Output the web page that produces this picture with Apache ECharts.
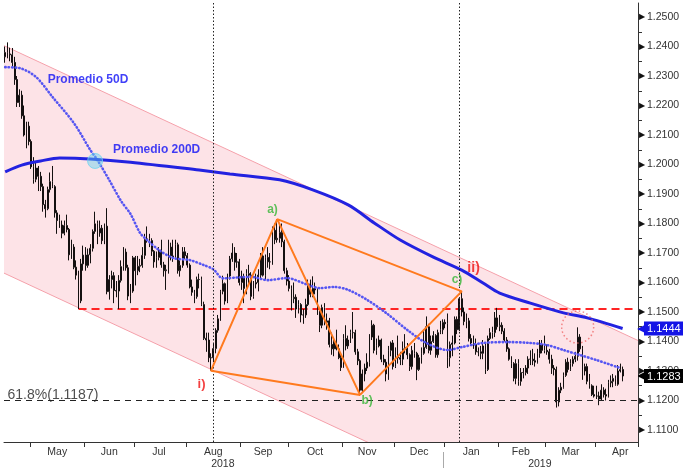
<!DOCTYPE html>
<html><head><meta charset="utf-8">
<script src="https://cdn.jsdelivr.net/npm/echarts@6/dist/echarts.min.js"></script>
<style>html,body{margin:0;padding:0;background:#fff}#c{width:683px;height:468px}</style>
</head><body><div id="c"></div><script>
// ---------- data ----------
const startDate = [2018, 3, 16];   // first trading day shown (UTC y, m-1, d)
const categoryCount = 268;          // weekdays on the axis (incl. a few empty ones at the right)
const monthNames = ['Jan','Feb','Mar','Apr','May','Jun','Jul','Aug','Sep','Oct','Nov','Dec'];

const opens = [
1.2365,1.2380,1.2375,1.2372,1.2346,1.2288,1.2210,1.2235,1.2165,1.2100,
1.2130,1.2078,1.1992,1.1950,1.1988,1.1960,1.1925,1.1864,1.1850,1.1915,
1.1942,1.1925,1.1836,1.1810,1.1795,1.1767,1.1793,1.1780,1.1694,1.1720,
1.1652,1.1625,1.1538,1.1663,1.1693,1.1658,1.1694,1.1716,1.1773,1.1799,
1.1768,1.1784,1.1742,1.1791,1.1569,1.1610,1.1623,1.1573,1.1571,1.1607,
1.1654,1.1703,1.1650,1.1554,1.1571,1.1684,1.1640,1.1655,1.1658,1.1692,
1.1745,1.1748,1.1742,1.1706,1.1670,1.1685,1.1710,1.1660,1.1640,1.1643,
1.1720,1.1690,1.1686,1.1728,1.1640,1.1658,1.1704,1.1691,1.1659,1.1585,
1.1567,1.1552,1.1610,1.1610,1.1525,1.1411,1.1405,1.1345,1.1345,1.1376,
1.1438,1.1477,1.1570,1.1596,1.1537,1.1622,1.1680,1.1700,1.1669,1.1670,
1.1600,1.1620,1.1580,1.1630,1.1625,1.1553,1.1595,1.1600,1.1625,1.1690,
1.1625,1.1685,1.1670,1.1670,1.1777,1.1745,1.1750,1.1770,1.1738,1.1640,
1.1605,1.1580,1.1545,1.1550,1.1510,1.1525,1.1490,1.1490,1.1525,1.1595,
1.1560,1.1580,1.1575,1.1500,1.1455,1.1515,1.1465,1.1470,1.1390,1.1375,
1.1400,1.1375,1.1345,1.1312,1.1410,1.1385,1.1405,1.1430,1.1430,1.1365,
1.1335,1.1235,1.1290,1.1310,1.1330,1.1415,1.1455,1.1370,1.1385,1.1405,
1.1340,1.1330,1.1290,1.1370,1.1395,1.1315,1.1350,1.1345,1.1340,1.1375,
1.1380,1.1355,1.1315,1.1370,1.1360,1.1305,1.1345,1.1360,1.1380,1.1450,
1.1370,1.1400,1.1420,1.1355,1.1430,1.1440,1.1465,1.1460,1.1345,1.1390,
1.1395,1.1475,1.1440,1.1545,1.1500,1.1468,1.1470,1.1410,1.1395,1.1390,
1.1365,1.1365,1.1360,1.1385,1.1305,1.1410,1.1430,1.1430,1.1480,1.1450,
1.1455,1.1435,1.1405,1.1375,1.1340,1.1325,1.1275,1.1325,1.1265,1.1295,
1.1295,1.1310,1.1340,1.1340,1.1335,1.1330,1.1360,1.1390,1.1370,1.1370,
1.1365,1.1340,1.1310,1.1305,1.1195,1.1235,1.1245,1.1285,1.1330,1.1305,
1.1325,1.1340,1.1350,1.1415,1.1375,1.1300,1.1315,1.1265,1.1250,1.1220,
1.1215,1.1215,1.1205,1.1235,1.1220,1.1215,1.1260,1.1265,1.1275,1.1255,
1.1300,1.1305];
const closes = [
1.2380,1.2375,1.2372,1.2346,1.2288,1.2210,1.2235,1.2165,1.2100,1.2130,
1.2078,1.1992,1.1950,1.1988,1.1960,1.1925,1.1864,1.1850,1.1915,1.1942,
1.1925,1.1836,1.1810,1.1795,1.1767,1.1793,1.1780,1.1694,1.1720,1.1652,
1.1625,1.1538,1.1663,1.1693,1.1658,1.1694,1.1716,1.1773,1.1799,1.1768,
1.1784,1.1742,1.1791,1.1569,1.1610,1.1623,1.1573,1.1571,1.1607,1.1654,
1.1703,1.1650,1.1554,1.1571,1.1684,1.1640,1.1655,1.1658,1.1692,1.1745,
1.1748,1.1742,1.1706,1.1670,1.1685,1.1710,1.1660,1.1640,1.1643,1.1720,
1.1690,1.1686,1.1728,1.1640,1.1658,1.1704,1.1691,1.1659,1.1585,1.1567,
1.1552,1.1610,1.1610,1.1525,1.1411,1.1405,1.1345,1.1345,1.1376,1.1438,
1.1477,1.1570,1.1596,1.1537,1.1622,1.1680,1.1700,1.1669,1.1670,1.1600,
1.1620,1.1580,1.1630,1.1625,1.1553,1.1595,1.1600,1.1625,1.1690,1.1625,
1.1685,1.1670,1.1670,1.1777,1.1745,1.1750,1.1770,1.1738,1.1640,1.1605,
1.1580,1.1545,1.1550,1.1510,1.1525,1.1490,1.1490,1.1525,1.1595,1.1560,
1.1580,1.1575,1.1500,1.1455,1.1515,1.1465,1.1470,1.1390,1.1375,1.1400,
1.1375,1.1345,1.1312,1.1410,1.1385,1.1405,1.1430,1.1430,1.1365,1.1335,
1.1235,1.1290,1.1310,1.1330,1.1415,1.1455,1.1370,1.1385,1.1405,1.1340,
1.1330,1.1290,1.1370,1.1395,1.1315,1.1350,1.1345,1.1340,1.1375,1.1380,
1.1355,1.1315,1.1370,1.1360,1.1305,1.1345,1.1360,1.1380,1.1450,1.1370,
1.1400,1.1420,1.1355,1.1430,1.1440,1.1465,1.1460,1.1345,1.1390,1.1395,
1.1475,1.1440,1.1545,1.1500,1.1468,1.1470,1.1410,1.1395,1.1390,1.1365,
1.1365,1.1360,1.1385,1.1305,1.1410,1.1430,1.1430,1.1480,1.1450,1.1455,
1.1435,1.1405,1.1375,1.1340,1.1325,1.1275,1.1325,1.1265,1.1295,1.1295,
1.1310,1.1340,1.1340,1.1335,1.1330,1.1360,1.1390,1.1370,1.1370,1.1365,
1.1340,1.1310,1.1305,1.1195,1.1235,1.1245,1.1285,1.1330,1.1305,1.1325,
1.1340,1.1350,1.1415,1.1375,1.1300,1.1315,1.1265,1.1250,1.1220,1.1215,
1.1215,1.1205,1.1235,1.1220,1.1215,1.1260,1.1265,1.1275,1.1255,1.1300,
1.1305,1.1283];
const highs = [
1.2400,1.2414,1.2396,1.2395,1.2365,1.2300,1.2255,1.2250,1.2200,1.2145,
1.2145,1.2085,1.2025,1.2010,1.1995,1.1975,1.1935,1.1880,1.1925,1.1973,
1.1995,1.1930,1.1845,1.1830,1.1810,1.1810,1.1830,1.1785,1.1745,1.1730,
1.1675,1.1640,1.1680,1.1725,1.1720,1.1715,1.1730,1.1780,1.1840,1.1810,
1.1810,1.1795,1.1800,1.1852,1.1625,1.1640,1.1635,1.1605,1.1625,1.1675,
1.1720,1.1715,1.1660,1.1595,1.1690,1.1690,1.1690,1.1680,1.1720,1.1765,
1.1790,1.1765,1.1750,1.1710,1.1705,1.1720,1.1745,1.1670,1.1660,1.1745,
1.1735,1.1745,1.1745,1.1735,1.1675,1.1720,1.1720,1.1700,1.1665,1.1610,
1.1575,1.1620,1.1630,1.1620,1.1535,1.1430,1.1430,1.1360,1.1395,1.1445,
1.1490,1.1575,1.1623,1.1600,1.1630,1.1690,1.1733,1.1720,1.1700,1.1680,
1.1640,1.1630,1.1645,1.1660,1.1635,1.1605,1.1630,1.1645,1.1700,1.1720,
1.1695,1.1720,1.1700,1.1790,1.1800,1.1815,1.1795,1.1800,1.1745,1.1650,
1.1625,1.1590,1.1600,1.1560,1.1540,1.1530,1.1510,1.1545,1.1610,1.1610,
1.1621,1.1600,1.1580,1.1505,1.1525,1.1530,1.1495,1.1480,1.1430,1.1410,
1.1440,1.1390,1.1355,1.1425,1.1455,1.1420,1.1440,1.1500,1.1440,1.1375,
1.1340,1.1305,1.1325,1.1360,1.1425,1.1472,1.1460,1.1410,1.1420,1.1410,
1.1355,1.1340,1.1385,1.1400,1.1405,1.1380,1.1420,1.1365,1.1400,1.1425,
1.1395,1.1360,1.1385,1.1395,1.1365,1.1355,1.1380,1.1440,1.1485,1.1460,
1.1420,1.1435,1.1425,1.1440,1.1470,1.1475,1.1475,1.1495,1.1400,1.1420,
1.1485,1.1485,1.1550,1.1570,1.1515,1.1495,1.1480,1.1425,1.1420,1.1410,
1.1380,1.1385,1.1405,1.1395,1.1420,1.1445,1.1450,1.1500,1.1514,1.1490,
1.1465,1.1445,1.1415,1.1380,1.1350,1.1330,1.1340,1.1340,1.1310,1.1310,
1.1320,1.1350,1.1370,1.1375,1.1360,1.1375,1.1405,1.1405,1.1420,1.1390,
1.1375,1.1355,1.1320,1.1315,1.1245,1.1260,1.1295,1.1340,1.1345,1.1340,
1.1350,1.1365,1.1448,1.1425,1.1385,1.1325,1.1325,1.1290,1.1255,1.1250,
1.1250,1.1230,1.1255,1.1245,1.1240,1.1270,1.1285,1.1290,1.1285,1.1320,
1.1325,1.1315];
const lows = [
1.2345,1.2360,1.2350,1.2330,1.2270,1.2195,1.2195,1.2155,1.2095,1.2055,
1.2065,1.1985,1.1935,1.1940,1.1910,1.1910,1.1840,1.1820,1.1845,1.1905,
1.1920,1.1820,1.1765,1.1785,1.1750,1.1760,1.1770,1.1675,1.1680,1.1645,
1.1610,1.1510,1.1530,1.1640,1.1640,1.1650,1.1665,1.1705,1.1765,1.1730,
1.1755,1.1730,1.1730,1.1560,1.1542,1.1580,1.1530,1.1550,1.1510,1.1600,
1.1640,1.1640,1.1540,1.1530,1.1565,1.1590,1.1625,1.1635,1.1650,1.1680,
1.1735,1.1720,1.1690,1.1650,1.1650,1.1675,1.1650,1.1620,1.1575,1.1630,
1.1675,1.1670,1.1680,1.1630,1.1620,1.1650,1.1680,1.1650,1.1580,1.1555,
1.1530,1.1545,1.1580,1.1520,1.1405,1.1365,1.1330,1.1301,1.1330,1.1360,
1.1430,1.1470,1.1560,1.1525,1.1530,1.1610,1.1670,1.1640,1.1650,1.1590,
1.1575,1.1530,1.1560,1.1595,1.1540,1.1545,1.1580,1.1570,1.1615,1.1620,
1.1610,1.1650,1.1645,1.1660,1.1730,1.1735,1.1735,1.1720,1.1630,1.1590,
1.1570,1.1505,1.1530,1.1480,1.1495,1.1465,1.1460,1.1480,1.1520,1.1550,
1.1550,1.1560,1.1490,1.1432,1.1445,1.1455,1.1440,1.1380,1.1355,1.1350,
1.1370,1.1340,1.1300,1.1310,1.1370,1.1375,1.1395,1.1410,1.1355,1.1320,
1.1216,1.1225,1.1265,1.1300,1.1315,1.1405,1.1360,1.1355,1.1380,1.1330,
1.1320,1.1265,1.1270,1.1350,1.1305,1.1310,1.1325,1.1320,1.1320,1.1360,
1.1340,1.1300,1.1305,1.1345,1.1269,1.1300,1.1325,1.1355,1.1375,1.1360,
1.1355,1.1395,1.1345,1.1345,1.1425,1.1425,1.1445,1.1310,1.1315,1.1350,
1.1390,1.1425,1.1435,1.1485,1.1455,1.1445,1.1400,1.1385,1.1375,1.1355,
1.1350,1.1340,1.1340,1.1290,1.1300,1.1405,1.1410,1.1415,1.1440,1.1435,
1.1425,1.1400,1.1365,1.1335,1.1310,1.1265,1.1255,1.1250,1.1250,1.1275,
1.1285,1.1290,1.1320,1.1320,1.1315,1.1325,1.1345,1.1360,1.1360,1.1355,
1.1325,1.1290,1.1285,1.1176,1.1180,1.1225,1.1240,1.1280,1.1295,1.1300,
1.1315,1.1330,1.1335,1.1365,1.1270,1.1285,1.1255,1.1240,1.1215,1.1210,
1.1205,1.1184,1.1200,1.1210,1.1200,1.1210,1.1245,1.1245,1.1250,1.1250,
1.1295,1.1265];

// moving averages: [day index, value]
const ma50 = [[0,1.2330],[6,1.2327],[13,1.2297],[20,1.2229],[29,1.2141],[36,1.2049],[39,1.2015],[44,1.1947],
  [49,1.1876],[53,1.1832],[57,1.1768],[60,1.1744],[65,1.1710],[71,1.1683],[78,1.1676],[84,1.1659],[88,1.1645],
  [92,1.1614],[98,1.1617],[104,1.1619],[111,1.1608],[119,1.1615],[128,1.1592],[133,1.1581],[139,1.1585],
  [145,1.1575],[153,1.1541],[161,1.1497],[170,1.1439],[178,1.1395],[187,1.1371],[193,1.1381],[202,1.1395],
  [212,1.1398],[222,1.1395],[229,1.1388],[236,1.1371],[243,1.1354],[250,1.1337],[260,1.1310]];
const ma200 = [[0,1.1975],[7,1.1998],[15,1.2012],[23,1.2022],[36,1.2019],[53,1.2008],[82,1.1981],[95,1.1968],
  [116,1.1948],[130,1.1914],[145,1.1863],[156,1.1802],[167,1.1744],[181,1.1686],[193,1.1642],[202,1.1598],
  [209,1.1564],[222,1.1530],[236,1.1497],[246,1.1480],[261,1.1444]];

// channel: values at day index 0 and 266
const channelIdx = [0, 266];
const channelUpper = [1.2401, 1.1409];
const channelLower = [1.1630, 1.0638];

// pattern points i) a) b) c)
const ptI = [87, 1.1301], ptA = [115, 1.1815], ptB = [150, 1.1219], ptC = [193, 1.1570];
const resistance = [[31, 1.1510], [266, 1.1510]];
const fibLevel = 1.1187;
const markerDays = [88, 192];
const crossPoint = [38, 1.2012];
const circlePoint = [242, 1.1449];
const lastMa200 = 1.1444;
const lastClose = 1.1283;

const priceTicks = [1.11,1.12,1.13,1.14,1.15,1.16,1.17,1.18,1.19,1.20,1.21,1.22,1.23,1.24,1.25];
const minorTicks = [1.115,1.125,1.135,1.145,1.155,1.165,1.175,1.185,1.195,1.205,1.215,1.225,1.235,1.245];
const yearLabelIdx = [92, 226];
const yearSeparatorIdx = 185;
const yMin = 1.10593, yMax = 1.25475;

// ---------- build ----------
const cats = [];
{ const d = new Date(Date.UTC(startDate[0], startDate[1], startDate[2]));
  while (cats.length < categoryCount) {
    const wd = d.getUTCDay();
    if (wd !== 0 && wd !== 6) cats.push(d.toISOString().slice(0, 10));
    d.setUTCDate(d.getUTCDate() + 1);
  } }
const monthStarts = [];
for (let i = 1; i < cats.length; i++) if (cats[i].slice(0,7) !== cats[i-1].slice(0,7)) monthStarts.push(i);
const tickSet = new Set(monthStarts);
const labelSet = new Set();
for (let k = 0; k < monthStarts.length; k++) {
  const s = monthStarts[k], e = k + 1 < monthStarts.length ? monthStarts[k+1] : s + 22;
  labelSet.add(Math.floor((s + e) / 2 - 0.5));
}
const candles = opens.map((o, i) => [o, closes[i], lows[i], highs[i]]);

const FONT = 'Liberation Sans';
const chart = echarts.init(document.getElementById('c'), null, {renderer: 'canvas'});
const noBorder = {textBorderWidth: 0, textShadowBlur: 0};
const annotations = [
  {value: [35, 1.2286], name: 'Promedio 50D', label: {color: '#1010f6', fontWeight: 'bold', fontSize: 12, ...noBorder}},
  {value: [64, 1.2049], name: 'Promedio 200D', label: {color: '#1010f6', fontWeight: 'bold', fontSize: 12, ...noBorder}},
  {value: [113, 1.1846], name: 'a)', label: {color: '#36b536', fontWeight: 'bold', fontSize: 12, ...noBorder}},
  {value: [153, 1.1198], name: 'b)', label: {color: '#36b536', fontWeight: 'bold', fontSize: 12, ...noBorder}},
  {value: [191, 1.1608], name: 'c)', label: {color: '#36b536', fontWeight: 'bold', fontSize: 12, ...noBorder}},
  {value: [83, 1.1256], name: 'i)', label: {color: '#f01010', fontWeight: 'bold', fontSize: 13, ...noBorder}},
  {value: [198, 1.1649], name: 'ii)', label: {color: '#f01010', fontWeight: 'bold', fontSize: 14, ...noBorder}},
  {value: [1, 1.1219], name: '61.8%(1.1187)', label: {color: '#222', fontSize: 14, position: 'right', distance: 0, ...noBorder}}
];

chart.setOption({
  animation: false,
  textStyle: {fontFamily: FONT},
  grid: {left: 4, right: 45, top: 3, bottom: 26, outerBoundsMode: 'none'},
  xAxis: [{
    type: 'category', data: cats, boundaryGap: true,
    axisLine: {show: true, lineStyle: {color: '#333', width: 1}},
    axisTick: {show: true, interval: (i) => tickSet.has(i), length: 5, lineStyle: {color: '#333'}},
    axisLabel: {interval: (i) => labelSet.has(i), margin: 5, fontSize: 10.5, color: '#333',
      formatter: (v) => monthNames[parseInt(v.slice(5, 7), 10) - 1]},
    splitLine: {show: false}
  }, {
    type: 'category', data: cats, position: 'bottom', offset: 10,
    axisLine: {show: false},
    axisTick: {show: true, alignWithLabel: true, interval: (i) => i === yearSeparatorIdx, length: 16, lineStyle: {color: '#aaa'}},
    axisLabel: {interval: (i) => yearLabelIdx.includes(i), margin: 6.5, fontSize: 10.5, color: '#333',
      formatter: (v) => v.slice(0, 4)},
    splitLine: {show: false}
  }],
  yAxis: [{
    type: 'value', position: 'right', min: yMin, max: yMax, scale: true,
    axisLine: {show: true, lineStyle: {color: '#333', width: 1}},
    splitLine: {show: false},
    axisTick: {show: true, customValues: minorTicks, length: 4, lineStyle: {color: '#333'}},
    axisLabel: {customValues: priceTicks, margin: 1, showMinLabel: true, showMaxLabel: true,
      formatter: (v) => '{a|▶}{b|' + v.toFixed(4) + '}',
      rich: {a: {fontSize: 8, color: '#111', padding: [0, 2, 0, 0]}, b: {fontSize: 10.5, color: '#333', fontFamily: FONT}}}
  }, {
    type: 'value', position: 'right', min: yMin, max: yMax, scale: true, offset: 0,
    axisLine: {show: false}, axisTick: {show: false}, splitLine: {show: false},
    axisLabel: {customValues: [lastMa200, lastClose], margin: -1, showMinLabel: true, showMaxLabel: true,
      formatter: (v) => Math.abs(v - lastMa200) < 1e-6
        ? '{bt|◀}{bv|' + v.toFixed(4) + '}'
        : '{kt|◀}{kv|' + v.toFixed(4) + '}',
      rich: {
        bt: {color: '#1414e6', fontSize: 12, padding: [0, -2, 0, 0]},
        bv: {color: '#fff', backgroundColor: '#1414e6', fontSize: 11, fontFamily: FONT, padding: [2, 4, 1, 3]},
        kt: {color: '#000', fontSize: 12, padding: [0, -2, 0, 0]},
        kv: {color: '#fff', backgroundColor: '#000', fontSize: 11, fontFamily: FONT, padding: [2, 4, 1, 3]}
      }}
  }],
  series: [
    {
      type: 'custom', z: 1, silent: true, clip: true,
      data: [[channelIdx[0], channelUpper[0]]],
      renderItem: function (params, api) {
        const cs = params.coordSys;
        const u0 = api.coord([channelIdx[0], channelUpper[0]]), u1 = api.coord([channelIdx[1], channelUpper[1]]);
        const l0 = api.coord([channelIdx[0], channelLower[0]]), l1 = api.coord([channelIdx[1], channelLower[1]]);
        const ext = (p, q, x) => [x, p[1] + (q[1] - p[1]) * (x - p[0]) / (q[0] - p[0])];
        const xL = cs.x, xR = cs.x + cs.width;
        const U0 = ext(u0, u1, xL), U1 = ext(u0, u1, xR), L0 = ext(l0, l1, xL), L1 = ext(l0, l1, xR);
        return {type: 'group',
          clipPath: {type: 'rect', shape: {x: cs.x, y: cs.y, width: cs.width, height: cs.height}},
          children: [
            {type: 'polygon', shape: {points: [U0, U1, L1, L0]}, style: {fill: '#fde3e7'}},
            {type: 'line', shape: {x1: U0[0], y1: U0[1], x2: U1[0], y2: U1[1]}, style: {stroke: '#f5a0aa', lineWidth: 1}},
            {type: 'line', shape: {x1: L0[0], y1: L0[1], x2: L1[0], y2: L1[1]}, style: {stroke: '#f5a0aa', lineWidth: 1}}
          ]};
      }
    },
    {
      type: 'line', z: 2, data: resistance, symbol: 'none', silent: true,
      lineStyle: {color: '#ff2424', width: 2, type: [8, 5]}
    },
    {
      type: 'candlestick', z: 3, data: candles, barWidth: '55%',
      itemStyle: {color: '#ffffff', color0: '#141010', borderColor: '#141010', borderColor0: '#141010', borderWidth: 1},
      markLine: {
        silent: true, symbol: ['none', 'none'], animation: false,
        label: {show: false},
        data: [
          {yAxis: fibLevel, lineStyle: {color: '#222', width: 1, type: [6, 5]}},
          {xAxis: cats[markerDays[0]], lineStyle: {color: '#222', width: 1, type: [1.5, 2]}},
          {xAxis: cats[markerDays[1]], lineStyle: {color: '#222', width: 1, type: [1.5, 2]}}
        ]
      }
    },
    {
      type: 'line', z: 4, data: ma50, symbol: 'none', smooth: 0.3, silent: true,
      lineStyle: {color: '#5656f2', width: 2.6, type: [0.5, 3], cap: 'round'}
    },
    {
      type: 'line', z: 4, data: ma200, symbol: 'none', smooth: 0.3, silent: true,
      lineStyle: {color: '#2222e0', width: 3}
    },
    {
      type: 'line', z: 5, data: [ptA, ptI, ptB, ptA, ptC, ptB], symbol: 'none', silent: true,
      lineStyle: {color: '#ff7a1e', width: 2}
    },
    {
      type: 'scatter', z: 6, silent: true,
      data: [{value: crossPoint, symbolSize: 15, itemStyle: {color: 'rgba(90,210,240,0.55)', borderColor: '#6fd3ef', borderWidth: 1}},
             {value: circlePoint, symbolSize: 32, itemStyle: {color: 'rgba(0,0,0,0)', borderColor: '#f06a6a', borderWidth: 1.5, borderType: [1.5, 2.5]}}]
    },
    {
      type: 'scatter', z: 7, silent: true, symbolSize: 0, data: annotations,
      label: {show: true, position: 'inside', formatter: (p) => p.name, fontFamily: FONT}
    }
  ]
});
</script></body></html>
